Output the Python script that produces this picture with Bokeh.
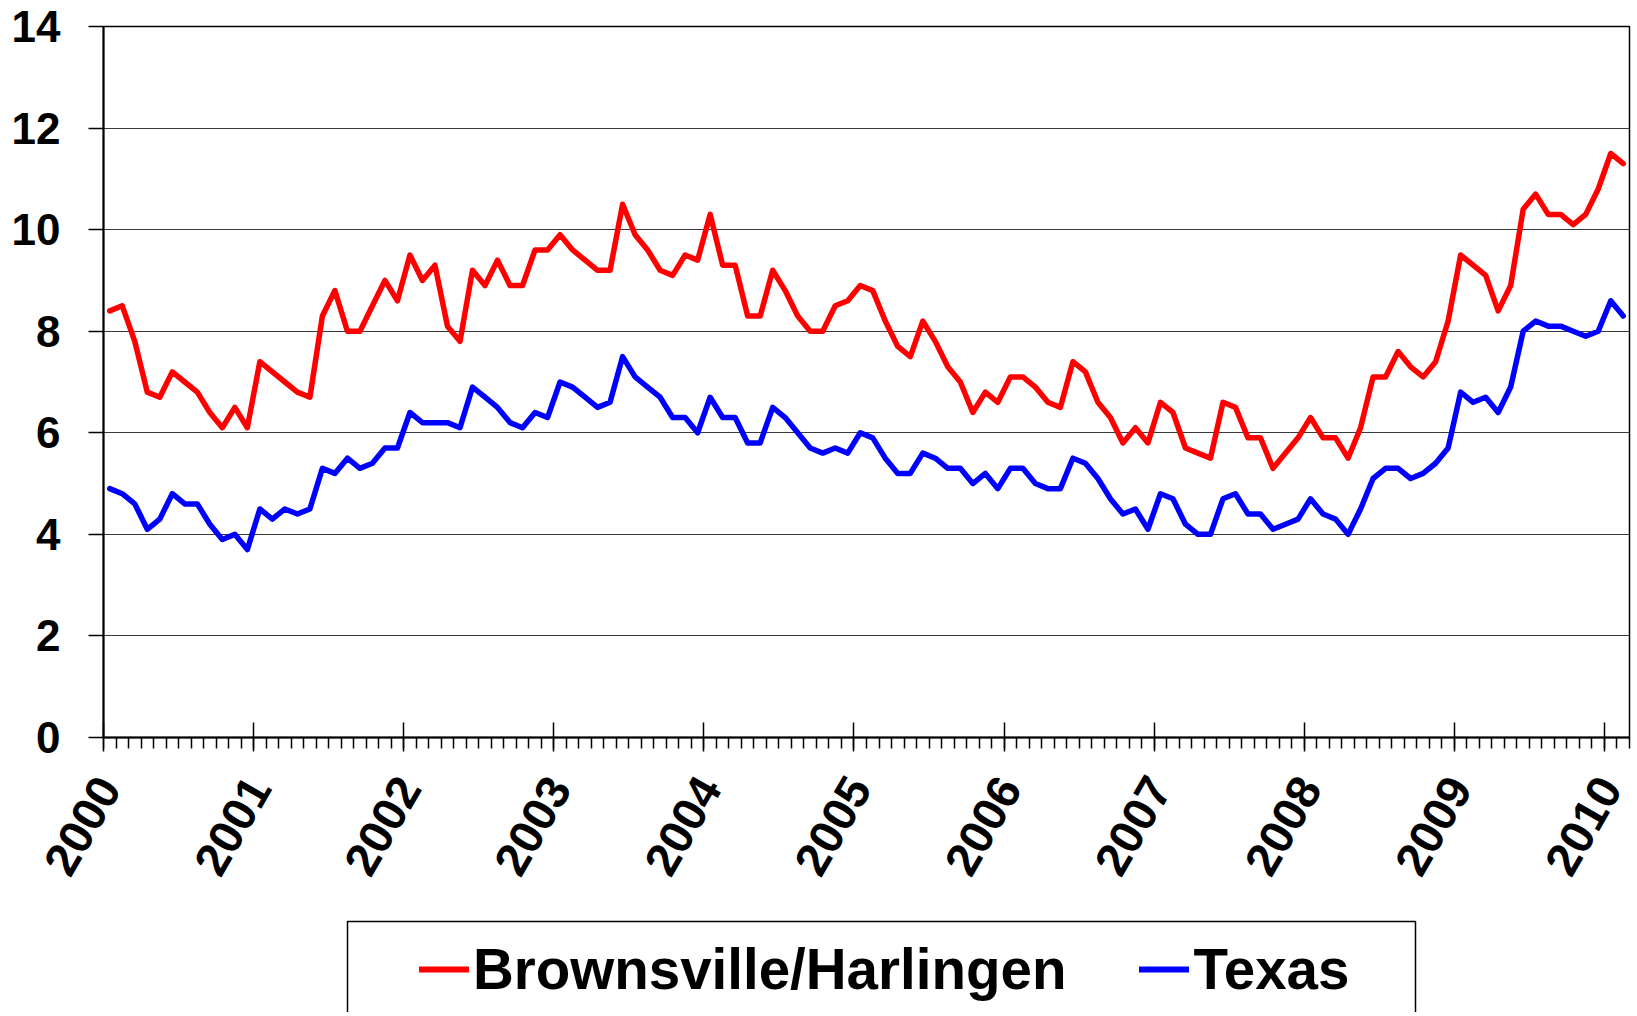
import math
from bokeh.plotting import figure
from bokeh.layouts import column
from bokeh.models import (FixedTicker, Legend, LegendItem, BoxAnnotation,
                          ColumnDataSource, Range1d, LinearAxis)
from bokeh.embed import file_html
from bokeh.resources import INLINE

# ---- data (monthly, Jan 2000 - Feb 2010) ----
years = ["2000", "2001", "2002", "2003", "2004", "2005",
         "2006", "2007", "2008", "2009", "2010"]

brownsville = [
    8.4, 8.5, 7.8, 6.8, 6.7, 7.2, 7.0, 6.8, 6.4, 6.1, 6.5, 6.1,      # 2000
    7.4, 7.2, 7.0, 6.8, 6.7, 8.3, 8.8, 8.0, 8.0, 8.5, 9.0, 8.6,      # 2001
    9.5, 9.0, 9.3, 8.1, 7.8, 9.2, 8.9, 9.4, 8.9, 8.9, 9.6, 9.6,      # 2002
    9.9, 9.6, 9.4, 9.2, 9.2, 10.5, 9.9, 9.6, 9.2, 9.1, 9.5, 9.4,     # 2003
    10.3, 9.3, 9.3, 8.3, 8.3, 9.2, 8.8, 8.3, 8.0, 8.0, 8.5, 8.6,     # 2004
    8.9, 8.8, 8.2, 7.7, 7.5, 8.2, 7.8, 7.3, 7.0, 6.4, 6.8, 6.6,      # 2005
    7.1, 7.1, 6.9, 6.6, 6.5, 7.4, 7.2, 6.6, 6.3, 5.8, 6.1, 5.8,      # 2006
    6.6, 6.4, 5.7, 5.6, 5.5, 6.6, 6.5, 5.9, 5.9, 5.3, 5.6, 5.9,      # 2007
    6.3, 5.9, 5.9, 5.5, 6.1, 7.1, 7.1, 7.6, 7.3, 7.1, 7.4, 8.2,      # 2008
    9.5, 9.3, 9.1, 8.4, 8.9, 10.4, 10.7, 10.3, 10.3, 10.1, 10.3, 10.8,  # 2009
    11.5, 11.3,                                                      # 2010
]

texas = [
    4.9, 4.8, 4.6, 4.1, 4.3, 4.8, 4.6, 4.6, 4.2, 3.9, 4.0, 3.7,      # 2000
    4.5, 4.3, 4.5, 4.4, 4.5, 5.3, 5.2, 5.5, 5.3, 5.4, 5.7, 5.7,      # 2001
    6.4, 6.2, 6.2, 6.2, 6.1, 6.9, 6.7, 6.5, 6.2, 6.1, 6.4, 6.3,      # 2002
    7.0, 6.9, 6.7, 6.5, 6.6, 7.5, 7.1, 6.9, 6.7, 6.3, 6.3, 6.0,      # 2003
    6.7, 6.3, 6.3, 5.8, 5.8, 6.5, 6.3, 6.0, 5.7, 5.6, 5.7, 5.6,      # 2004
    6.0, 5.9, 5.5, 5.2, 5.2, 5.6, 5.5, 5.3, 5.3, 5.0, 5.2, 4.9,      # 2005
    5.3, 5.3, 5.0, 4.9, 4.9, 5.5, 5.4, 5.1, 4.7, 4.4, 4.5, 4.1,      # 2006
    4.8, 4.7, 4.2, 4.0, 4.0, 4.7, 4.8, 4.4, 4.4, 4.1, 4.2, 4.3,      # 2007
    4.7, 4.4, 4.3, 4.0, 4.5, 5.1, 5.3, 5.3, 5.1, 5.2, 5.4, 5.7,      # 2008
    6.8, 6.6, 6.7, 6.4, 6.9, 8.0, 8.2, 8.1, 8.1, 8.0, 7.9, 8.0,      # 2009
    8.6, 8.3,                                                        # 2010
]

series_names = ["Brownsville/Harlingen", "Texas"]
series_colors = ["#FF0000", "#0000FF"]

y_ticks = [0, 2, 4, 6, 8, 10, 12, 14]

n = len(brownsville)
month_pos = [i + 0.5 for i in range(n)]          # centre of each month slot
year_ticks = [12 * k for k in range(len(years))]  # year boundaries
LABEL_SHIFT = 0.42                               # label anchor offset (months)
label_pos = [t + LABEL_SHIFT for t in year_ticks]

src = ColumnDataSource(dict(x=month_pos, bh=brownsville, tx=texas))

FONT = "Liberation Sans"
W = 1636
BORDER_L, BORDER_R = 103, 7
FRAME_W = W - BORDER_L - BORDER_R

# ---------------- main chart ----------------
p = figure(width=W, height=913, output_backend="svg", toolbar_location=None,
           x_range=Range1d(0, n), y_range=Range1d(0, 14),
           min_border_left=BORDER_L, min_border_right=BORDER_R, min_border_top=26,
           min_border_bottom=176)
p.background_fill_color = "white"
p.border_fill_color = "white"
p.outline_line_color = "black"
p.outline_line_width = 1.5

p.line("x", "bh", source=src, line_color=series_colors[0], line_width=5.5,
       line_join="round", line_cap="round")
p.line("x", "tx", source=src, line_color=series_colors[1], line_width=5.5,
       line_join="round", line_cap="round")

# x axis: ticks only
xa = p.xaxis[0]
xa.ticker = FixedTicker(ticks=year_ticks, minor_ticks=list(range(n + 1)))
xa.major_label_overrides = {t: "" for t in year_ticks}
xa.major_label_text_font_size = "1px"
xa.major_label_standoff = 0
xa.axis_line_width = 2
xa.axis_line_color = "black"
xa.major_tick_in = 15
xa.major_tick_out = 14
xa.major_tick_line_width = 1.5
xa.major_tick_line_color = "black"
xa.minor_tick_in = 0
xa.minor_tick_out = 11
xa.minor_tick_line_width = 1.5
xa.minor_tick_line_color = "black"

# x axis: year labels (rotated)
xl = LinearAxis(ticker=FixedTicker(ticks=label_pos, minor_ticks=[]))
xl.major_label_overrides = {t: y for t, y in zip(label_pos, years)}
xl.major_label_orientation = math.pi / 3
xl.major_label_text_baseline = "top"
xl.major_label_text_font = FONT
xl.major_label_text_font_style = "bold"
xl.major_label_text_font_size = "47px"
xl.major_label_text_color = "black"
xl.major_label_standoff = 23
xl.axis_line_color = None
xl.major_tick_line_color = None
xl.minor_tick_line_color = None
p.add_layout(xl, "below")

ya = p.yaxis[0]
ya.ticker = FixedTicker(ticks=y_ticks)
ya.major_label_text_font = FONT
ya.major_label_text_font_style = "bold"
ya.major_label_text_font_size = "44px"
ya.major_label_text_color = "black"
ya.major_label_standoff = 28
ya.axis_line_width = 2
ya.axis_line_color = "black"
ya.major_tick_in = 0
ya.major_tick_out = 15
ya.major_tick_line_width = 1.5
ya.major_tick_line_color = "black"
ya.minor_tick_line_color = None

p.xgrid.grid_line_color = None
p.ygrid.grid_line_color = "#3a3a3a"
p.ygrid.grid_line_width = 1

# ---------------- legend strip (box open at the bottom) ----------------
LG_H = 99
# ranges in pixel units so the box can be placed; the series data sit
# outside this y range (they only serve as legend glyph sources)
lg = figure(width=W, height=LG_H, output_backend="svg", toolbar_location=None,
            x_range=Range1d(0, FRAME_W), y_range=Range1d(-LG_H, 0),
            x_axis_type=None, y_axis_type=None,
            min_border_left=BORDER_L, min_border_right=BORDER_R,
            min_border_top=0, min_border_bottom=0)
lg.outline_line_color = None
lg.background_fill_color = "white"
lg.border_fill_color = "white"

box = BoxAnnotation(left=347 - BORDER_L, right=1415 - BORDER_L, top=-8, bottom=-300,
                    fill_alpha=0, line_color="black", line_alpha=1, line_width=1.5)
lg.add_layout(box)

items = []
for name, col, key in zip(series_names, series_colors, ["bh", "tx"]):
    r = lg.line("x", key, source=src, line_color=col, line_width=6, line_cap="round")
    items.append(LegendItem(label=name, renderers=[r]))

legend = Legend(items=items, orientation="horizontal", location=(316, 8),
                padding=0, margin=0, spacing=73, label_standoff=4,
                glyph_width=50, glyph_height=70, label_height=70,
                border_line_alpha=0, background_fill_alpha=0,
                label_text_font=FONT, label_text_font_style="bold",
                label_text_font_size="56.5px", label_text_color="black")
lg.add_layout(legend, "center")

layout = column(p, lg, spacing=0)
open("out.html", "w").write(file_html(layout, INLINE))
